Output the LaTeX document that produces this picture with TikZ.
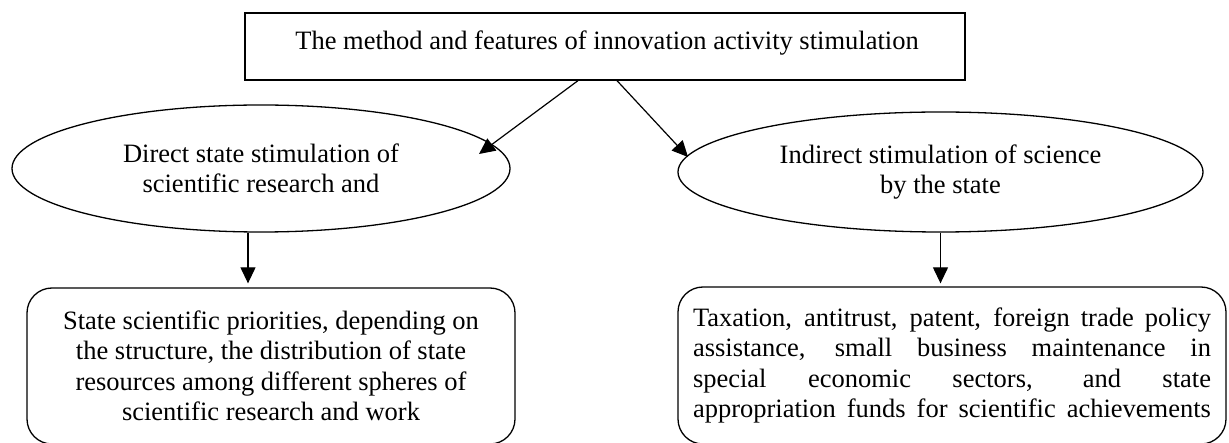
\documentclass[tikz,border=0pt]{standalone}
\usepackage{fontspec}
\setmainfont{Liberation Serif}
\usetikzlibrary{arrows.meta,shapes.geometric,calc}
\begin{document}
\begin{tikzpicture}[x=1pt,y=-1pt,
  every node/.style={font=\fontsize{26.5}{30.5}\selectfont, inner sep=0pt},
  topbox/.style={draw, line width=1.3pt, rectangle, minimum width=720pt, minimum height=67pt},
  oval/.style={draw, line width=1.3pt, ellipse, align=center},
  roundbox/.style={draw, line width=1.3pt, rectangle, rounded corners=25pt, align=center},
  conn/.style={line width=1.2pt, -{Triangle[width=15pt,length=16pt]}}]
\useasboundingbox (0,0) rectangle (1229,443);
\node[topbox] (top) at (605,46.5) {};
\node (toptext) at (607,43) {The method and features of innovation activity stimulation};
\node[oval, minimum width=498pt, minimum height=127pt] (lell) at (261,168.5)
  {Direct state stimulation of\\scientific research and};
\node[oval, minimum width=525pt, minimum height=120pt] (rell) at (940.5,172)
  {Indirect stimulation of science\\by the state};
\node[roundbox, minimum width=488pt, minimum height=156pt] (lbox) at (271,366)
  {State scientific priorities, depending on\\the structure, the distribution of state\\resources among different spheres of\\scientific research and work};
\node[roundbox, minimum width=548pt, minimum height=157pt] (rbox) at (952,365.5)
  {\makebox[518pt][s]{Taxation, antitrust, patent, foreign trade policy}\\
   \makebox[518pt][s]{assistance, small business maintenance in}\\
   \makebox[518pt][s]{special economic sectors, and state}\\
   \makebox[518pt][s]{appropriation funds for scientific achievements}};
\coordinate (e1) at (479,154);
\coordinate (e2) at (688,157);
\draw[conn] ($(top.south)+(-27,0)$) -- (e1);
\draw[conn] ($(top.south)+(12,0)$) -- (e2);
\draw[conn] ($(lell.south)+(-13,0)$) -- ($(lbox.north)+(-23,-4)$);
\draw[conn] (rell.south) -- ($(rbox.north)+(-11.5,-3)$);
\end{tikzpicture}
\end{document}
